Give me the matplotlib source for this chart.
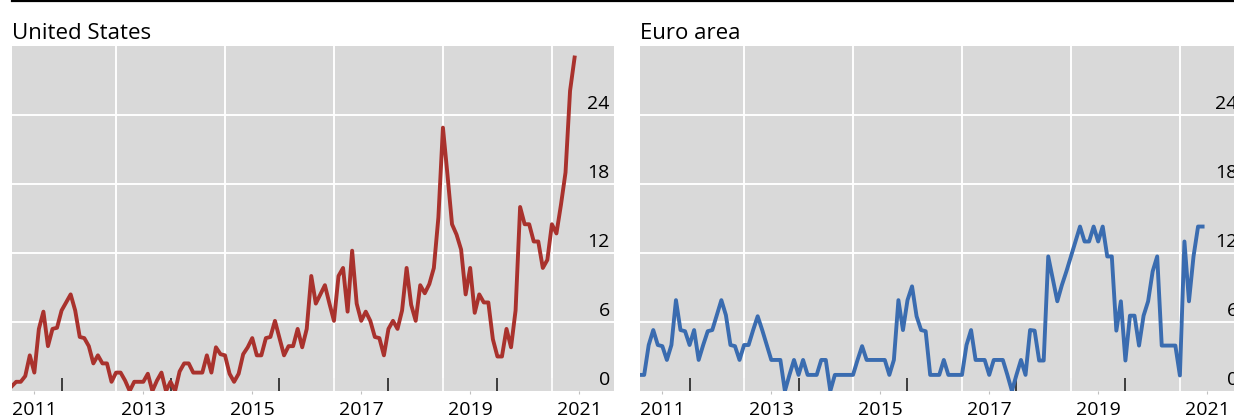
import pandas as pd
import matplotlib.pyplot as plt
from matplotlib.lines import Line2D

plt.rcParams['font.family'] = ['Open Sans', 'DejaVu Sans']

# monthly values, starting February 2011
start_month = "2011-02"

us_values = [0.4, 0.8, 0.8, 1.3, 3.1, 1.6, 5.4, 6.9, 3.9, 5.4, 5.5, 7.0, 7.7, 8.4, 7.0,
             4.7, 4.6, 3.9, 2.4, 3.1, 2.4, 2.4, 0.8, 1.6, 1.6, 0.9, 0.0, 0.8, 0.8, 0.8,
             1.5, 0.0, 0.9, 1.6, 0.0, 0.8, 0.0, 1.7, 2.4, 2.4, 1.6, 1.6, 1.6, 3.1, 1.6,
             3.8, 3.2, 3.1, 1.5, 0.8, 1.5, 3.2, 3.8, 4.6, 3.1, 3.1, 4.6, 4.7, 6.1, 4.6,
             3.1, 3.9, 3.9, 5.4, 3.8, 5.4, 10.0, 7.6, 8.4, 9.2, 7.6, 6.1, 10.0, 10.7, 6.9,
             12.2, 7.6, 6.1, 6.9, 6.1, 4.7, 4.6, 3.1, 5.4, 6.1, 5.4, 7.0, 10.7, 7.5,
             6.1, 9.2, 8.5, 9.3, 10.7, 15.1, 22.9, 18.8, 14.5, 13.6, 12.3, 8.4, 10.7, 6.8,
             8.4, 7.7, 7.7, 4.5, 3.0, 3.0, 5.4, 3.8, 7.0, 16.0, 14.5, 14.5, 13.0, 13.0,
             10.7, 11.4, 14.5, 13.7, 16.2, 19.0, 26.1, 29.0]

euro_values = [1.4, 1.4, 4.0, 5.3, 4.0, 3.9, 2.7, 4.0, 7.9, 5.3, 5.2, 4.0, 5.3, 2.7, 4.0,
               5.2, 5.3, 6.6, 7.9, 6.6, 4.0, 3.9, 2.7, 4.0, 4.0, 5.3, 6.5, 5.3, 4.0, 2.7,
               2.7, 2.7, 0.0, 1.4, 2.7, 1.4, 2.7, 1.4, 1.4, 1.4, 2.7, 2.7, 0.0, 1.4,
               1.4, 1.4, 1.4, 1.4, 2.7, 3.9, 2.7, 2.7, 2.7, 2.7, 2.7, 1.4, 2.7, 7.9, 5.3,
               7.9, 9.1, 6.5, 5.3, 5.2, 1.4, 1.4, 1.4, 2.7, 1.4, 1.4, 1.4, 1.4, 4.0, 5.3,
               2.7, 2.7, 2.7, 1.4, 2.7, 2.7, 2.7, 1.4, 0.0, 1.4, 2.7, 1.4, 5.3,
               5.25, 2.65, 2.65, 11.7, 9.75, 7.8, 9.2, 10.4, 11.7, 13.0, 14.3, 13.0, 13.0,
               14.3, 13.0, 14.3, 11.7, 11.7, 5.25, 7.8, 2.65, 6.55, 6.55, 3.95, 6.55, 7.8,
               10.4, 11.7, 3.95, 3.95, 3.95, 3.95, 1.35, 13.0, 7.8, 11.7, 14.3, 14.3]

titles = ["United States", "Euro area"]
colors = ["#a9322d", "#3a6cb0"]
y_ticks = [0, 6, 12, 18, 24]
grid_years = [2013, 2015, 2017, 2019, 2021]
label_years = [2011, 2013, 2015, 2017, 2019, 2021]
tick_years = list(range(2012, 2022))

dates = pd.date_range(start_month, periods=len(us_values), freq="MS")
t = dates.year + (dates.month - 1) / 12

W, H = 1234, 419
fig = plt.figure(figsize=(W / 100, H / 100), dpi=100)

# thin rule across the top
fig.add_artist(Line2D([12 / W, 1], [1 - 1.5 / H] * 2, color="black", lw=1.6))

for i, (title, vals, col) in enumerate(zip(titles, [us_values, euro_values], colors)):
    left = [12, 640][i]
    ax = fig.add_axes([left / W, 28 / H, 602 / W, 345 / H])
    ax.set_facecolor("#d9d9d9")
    for s in ax.spines.values():
        s.set_visible(False)

    for yr in grid_years:
        ax.axvline(yr, color="white", lw=1.4, zorder=1)
    ax.plot(t, vals, color=col, lw=2.8, zorder=3, solid_joinstyle="round")

    ax.set_xlim(2011.09, 2022.14)
    ax.set_ylim(0, 30)

    # horizontal grid
    ax.set_yticks([v for v in y_ticks if v > 0])
    ax.yaxis.grid(True, color="white", lw=1.4)
    ax.tick_params(axis="y", length=0, labelleft=False)
    # labels sit at the right edge (the right panel runs off the figure, as in the source)
    for v in y_ticks:
        ax.annotate(str(v), xy=(1, v), xycoords=("axes fraction", "data"),
                    xytext=(-3, 4), textcoords="offset points",
                    ha="right", va="baseline", fontsize=14, annotation_clip=False)

    # year labels in the middle of each year, short black ticks at year starts
    ax.set_xticks([y + 0.5 for y in label_years])
    ax.set_xticklabels([str(y) for y in label_years])
    ax.set_xticks(tick_years, minor=True)
    ax.tick_params(axis="x", which="major", length=2, color="#c0c0c0",
                   labelsize=14, pad=5)
    ax.tick_params(axis="x", which="minor", direction="in", length=9.5,
                   width=1.2, color="#222222")
    ax.set_axisbelow(True)

    ax.set_title(title, loc="left", fontsize=16, pad=5)

fig.savefig("out.png", dpi=100)
